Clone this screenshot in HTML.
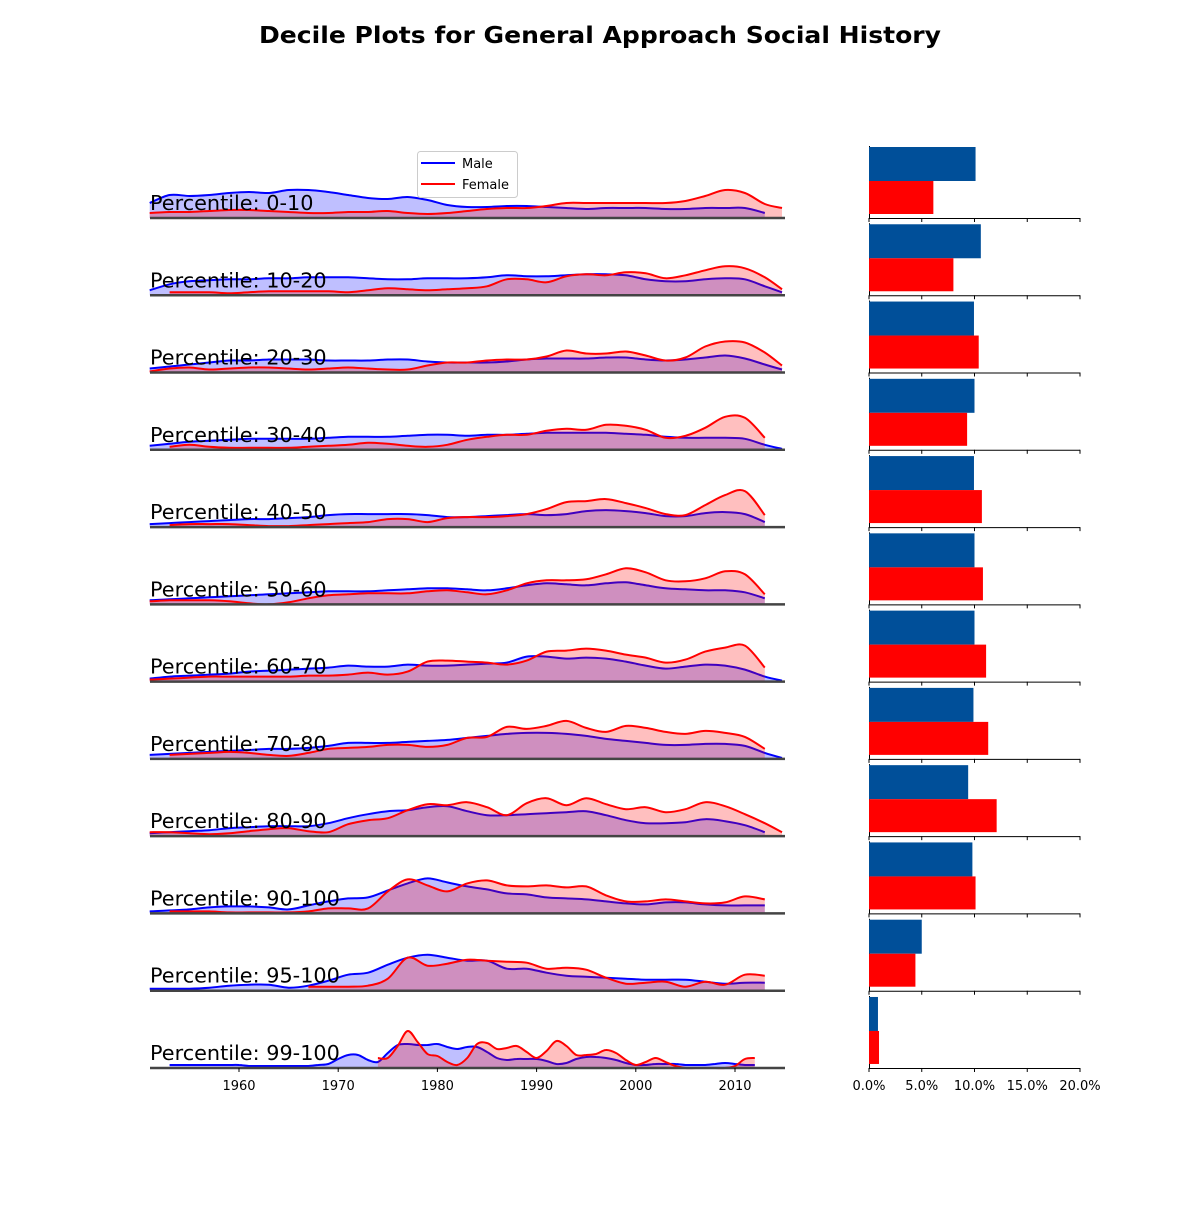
<!DOCTYPE html>
<html><head><meta charset="utf-8"><style>
body{margin:0;background:#fff}
svg text{font-family:"DejaVu Sans","Liberation Sans",sans-serif}
</style></head><body>
<svg id="chart" width="1200" height="1200" viewBox="0 0 1200 1200" xmlns="http://www.w3.org/2000/svg">
<rect width="1200" height="1200" fill="#fff"/>
<text x="600" y="43" text-anchor="middle" font-size="23" font-weight="bold" textLength="682" lengthAdjust="spacingAndGlyphs">Decile Plots for General Approach Social History</text>
<g id="rows"></g>
<g>
<rect x="417.5" y="151.5" width="100" height="46" rx="3" fill="#fff" fill-opacity="0.8" stroke="#ccc"/>
<line x1="421" y1="163" x2="455" y2="163" stroke="#0000ff" stroke-width="2"/>
<text x="462" y="168" font-size="13">Male</text>
<line x1="421" y1="184" x2="455" y2="184" stroke="#ff0000" stroke-width="2"/>
<text x="462" y="189" font-size="13">Female</text>
</g>
</svg>
<script>
const rowLabels = ["0-10","10-20","20-30","30-40","40-50","50-60","60-70","70-80","80-90","90-100","95-100","99-100"];
const gridStep = [2,2,2,2,2,2,2,2,2,2,2,1];
const gridStartYear = 1951;
const _ = null;
const male0 = [15,23,22,23,25,26,25,28,28,26,23,20,19,21,18,13,11,11,12,12,11,10,9,10,10,10,9,9,10,10,10,5,_];
const female0 = [5,6,6,7,8,8,7,6,5,5,6,6,7,5,4,5,7,9,10,10,12,15,15,15,15,15,15,17,22,28,25,14,10];
const male1 = [5,11,14,15,16,16,17,17,18,18,18,17,16,16,17,17,17,18,20,19,19,20,21,21,20,16,14,14,16,17,16,9,3];
const female1 = [_,3,3,3,2,3,4,4,4,4,3,5,7,6,5,6,7,9,16,16,13,19,21,20,23,22,17,20,25,29,27,18,6];
const male2 = [4,6,8,10,12,12,13,13,13,12,12,12,13,13,11,10,10,10,11,13,14,14,14,15,15,13,12,13,15,17,14,8,3];
const female2 = [1,4,5,3,4,5,5,4,3,4,5,4,3,3,7,10,10,12,13,13,16,22,19,19,21,17,12,15,26,31,30,20,7];
const male3 = [4,6,8,9,10,11,11,11,11,12,13,13,13,14,15,15,14,15,15,16,17,17,17,17,16,15,13,12,12,12,11,5,1];
const female3 = [_,3,5,3,2,2,2,2,3,4,5,7,6,4,3,5,10,13,15,15,19,21,20,25,24,20,12,14,22,33,32,12,_];
const male4 = [3,4,5,6,7,8,8,9,10,12,13,13,13,13,12,10,10,11,12,13,12,13,16,17,16,14,11,11,14,15,13,5,_];
const female4 = [_,2,3,3,3,2,1,1,2,3,4,5,8,8,5,9,10,10,11,13,18,25,26,28,24,19,13,12,22,32,36,12,_];
const male5 = [4,5,6,7,8,9,10,11,12,13,13,13,14,15,16,16,15,14,16,19,21,20,19,21,22,19,16,15,14,14,12,6,_];
const female5 = [3,4,4,4,3,1,0,2,6,9,10,11,11,11,13,14,12,10,14,21,24,24,25,30,36,32,24,23,26,33,30,10,_];
const male6 = [3,5,6,7,8,10,11,12,13,14,16,15,15,17,16,16,17,18,19,25,25,23,24,23,20,16,13,15,17,16,12,5,1];
const female6 = [2,3,4,5,5,5,5,5,6,6,7,9,7,10,20,21,20,19,17,21,30,31,33,31,27,24,19,22,30,34,36,14,_];
const male7 = [4,5,6,7,8,9,10,10,11,13,16,16,16,17,18,19,21,23,25,26,26,25,23,20,18,16,14,14,15,15,13,6,1];
const female7 = [_,4,5,6,7,6,4,3,6,10,11,12,14,14,12,14,21,22,32,30,33,38,31,27,33,31,27,25,28,26,22,10,_];
const male8 = [3,4,5,6,8,9,10,10,10,13,18,22,25,26,29,30,25,21,21,22,23,24,25,21,16,13,13,14,17,15,11,4,_];
const female8 = [4,4,3,2,3,5,7,8,5,4,12,16,18,26,32,31,34,29,21,33,38,31,38,32,27,29,24,27,34,30,22,13,4];
const male9 = [2,3,4,6,7,7,6,4,8,12,15,16,23,30,35,31,27,24,20,19,16,15,14,12,10,9,11,11,9,8,8,8,_];
const female9 = [_,2,2,2,1,1,1,1,2,5,5,5,22,34,28,22,30,33,28,27,28,26,27,18,12,12,14,12,10,11,17,14,_];
const male10 = [2,2,2,3,5,6,6,3,5,10,16,18,26,33,36,33,30,30,22,22,18,15,14,13,12,11,11,11,9,7,8,8,_];
const female10 = [_,_,_,_,_,_,_,_,4,4,4,5,12,33,25,27,31,30,29,28,22,23,21,13,7,8,9,4,9,6,16,15,_];
const male11 = [_,_,3,3,3,3,3,3,3,3,2,2,2,2,2,2,2,3,4,9,13,13,8,6,15,23,24,23,23,24,21,19,21,21,16,10,8,9,9,9,7,4,5,9,11,11,10,8,5,3,3,4,4,4,3,3,3,4,5,4,3,3,_,_,_];
const female11 = [_,_,_,_,_,_,_,_,_,_,_,_,_,_,_,_,_,_,_,_,_,_,_,10,10,22,37,26,14,12,6,3,10,24,25,19,20,22,16,10,17,27,22,13,13,14,18,15,8,3,6,10,6,2,0,0,0,0,0,2,9,10,_,_,_];
const maleSeries = [male0,male1,male2,male3,male4,male5,male6,male7,male8,male9,male10,male11];
const femaleSeries = [female0,female1,female2,female3,female4,female5,female6,female7,female8,female9,female10,female11];
const malePct = [10.1,10.6,9.95,10.0,9.95,10.0,10.0,9.9,9.4,9.8,5.0,0.85];
const femalePct = [6.1,8.0,10.4,9.3,10.7,10.8,11.1,11.3,12.1,10.1,4.4,0.95];
const yearTicks = [1960,1970,1980,1990,2000,2010];
const pctTicks = [0,5,10,15,20];

const NS = "http://www.w3.org/2000/svg";
const rowsG = document.getElementById('rows');
const xLeft = 150, xRight = 785;
function xYear(y){ return 239 + (y-1960)*9.92; }
function rowBase(i){ return 218 + i*77.27; }
function yVal(i,v){ return rowBase(i) - v*1.0; }
function xPct(p){ return 869 + p*10.55; }
function mk(tag, attrs, parent){ const e=document.createElementNS(NS,tag); for(const k in attrs) e.setAttribute(k,attrs[k]); (parent||rowsG).appendChild(e); return e; }

function smoothPath(pts){
  let d = "M"+pts[0][0].toFixed(1)+","+pts[0][1].toFixed(1);
  for(let k=0;k<pts.length-1;k++){
    const p0=pts[Math.max(0,k-1)], p1=pts[k], p2=pts[k+1], p3=pts[Math.min(pts.length-1,k+2)];
    const c1=[p1[0]+(p2[0]-p0[0])/6, p1[1]+(p2[1]-p0[1])/6];
    const c2=[p2[0]-(p3[0]-p1[0])/6, p2[1]-(p3[1]-p1[1])/6];
    d += " C"+c1[0].toFixed(1)+","+c1[1].toFixed(1)+" "+c2[0].toFixed(1)+","+c2[1].toFixed(1)+" "+p2[0].toFixed(1)+","+p2[1].toFixed(1);
  }
  return d;
}
function drawSeries(i, vals, color, name){
  const pts=[];
  vals.forEach((v,k)=>{ if(v!==null) pts.push([Math.min(xRight-3,xYear(gridStartYear+k*gridStep[i])), yVal(i,v)]); });
  if(pts.length<2) return;
  const line = smoothPath(pts);
  const base = rowBase(i);
  const area = mk('path',{d: line+" L"+pts[pts.length-1][0].toFixed(1)+","+base+" L"+pts[0][0].toFixed(1)+","+base+" Z", fill: color, 'fill-opacity':0.25, stroke:'none'});
  
  
  const ln = mk('path',{d: line, fill:'none', stroke: color, 'stroke-width':2});
  
  
}

for(let i=0;i<rowLabels.length;i++){
  const base=rowBase(i);
  drawSeries(i, maleSeries[i], '#0000ff', 'male-density-'+rowLabels[i]);
  drawSeries(i, femaleSeries[i], '#ff0000', 'female-density-'+rowLabels[i]);
  const bl = mk('line',{x1:xLeft,y1:base,x2:xRight,y2:base,stroke:'#444',"stroke-width":2.5});
  
  
  const lab = mk('text',{x:150,y:base-8,'font-size':20.8,fill:'#000'});
  lab.textContent = 'Percentile: '+rowLabels[i];
  
  
  const ls = mk('line',{x1:869.5,y1:base-72,x2:869.5,y2:base,stroke:'#000','stroke-width':1});
  
  
  const bm = mk('rect',{x:869,y:base-71,width:xPct(malePct[i])-869,height:34,fill:'#004f99'});
  
  
  const bf = mk('rect',{x:869,y:base-37,width:xPct(femalePct[i])-869,height:33,fill:'#ff0000'});
  
  
  const bs = mk('line',{x1:869,y1:base+0.5,x2:1080,y2:base+0.5,stroke:'#000','stroke-width':1});
  
  
  pctTicks.forEach(p=>{ mk('line',{x1:xPct(p),y1:base,x2:xPct(p),y2:base+4,stroke:'#000','stroke-width':1}); });
}
const lastBase = rowBase(rowLabels.length-1);
yearTicks.forEach(y=>{
  mk('line',{x1:xYear(y),y1:lastBase,x2:xYear(y),y2:lastBase+4,stroke:'#000','stroke-width':1});
  const t = mk('text',{x:xYear(y),y:lastBase+22,'text-anchor':'middle','font-size':13});
  t.textContent = y;
  
  
});
pctTicks.forEach(p=>{
  const t = mk('text',{x:xPct(p),y:lastBase+22,'text-anchor':'middle','font-size':13});
  t.textContent = p.toFixed(1)+'%';
  
  
});
</script>
</body></html>
